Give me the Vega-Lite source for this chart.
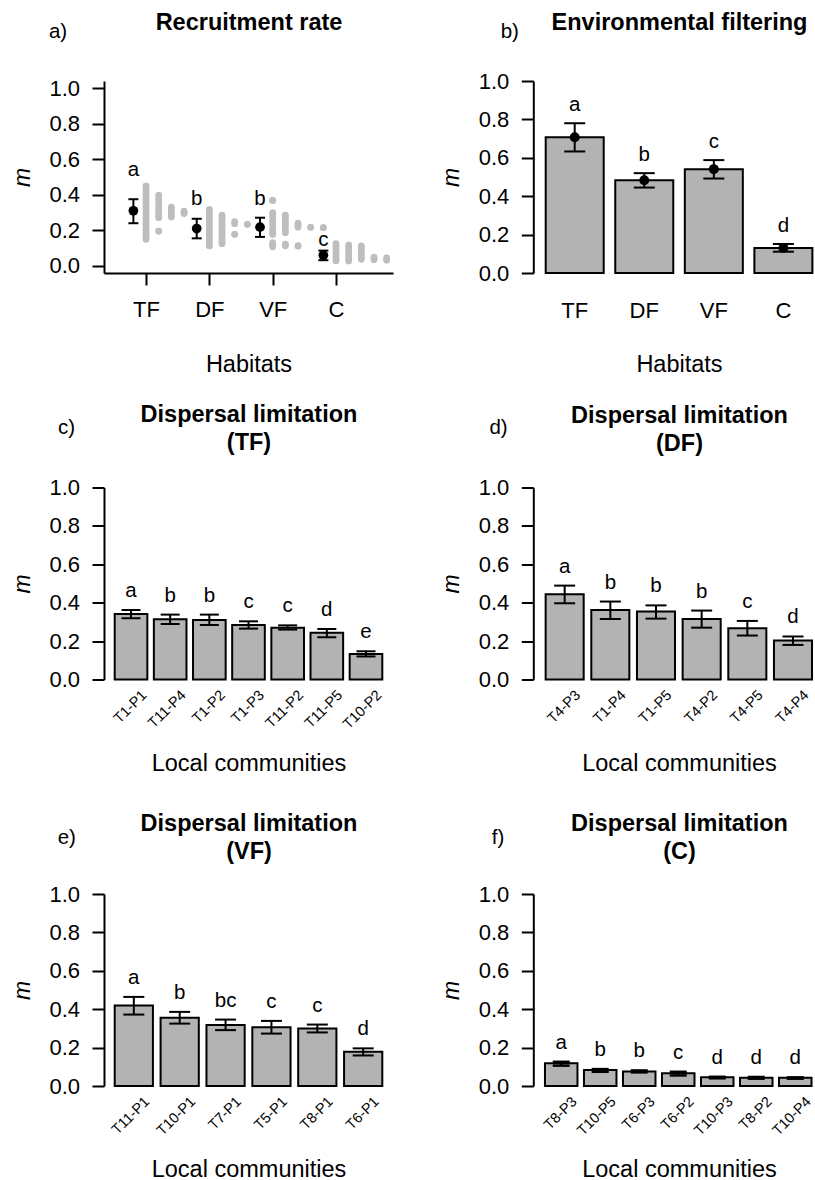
{
  "$schema": "https://vega.github.io/schema/vega-lite/v6.json",
  "autosize": {"type": "pad"},
  "padding": {"left": 11, "top": 10, "right": 0, "bottom": 0},
  "background": "white",
  "bounds": "flush",
  "columns": 2,
  "spacing": {"row": 214.5, "column": 140.3},
  "config": {
    "font": "Liberation Sans",
    "view": {"stroke": null},
    "axis": {
      "labelFont": "Liberation Sans", "titleFont": "Liberation Sans",
      "labelColor": "black", "titleColor": "black", "domainColor": "black", "tickColor": "black",
      "grid": false, "labelFontSize": 22, "titleFontSize": 23.5, "titleFontWeight": "normal",
      "tickSize": 12, "tickWidth": 2, "domainWidth": 2, "labelPadding": 12.5
    },
    "text": {"font": "Liberation Sans"}
  },
  "datasets": {
    "a_means": [
      {"hab": "TF", "pos": 0.8, "m": 0.31, "lo": 0.24, "hi": 0.375, "lab": "a", "ly": 0.505},
      {"hab": "DF", "pos": 1.8, "m": 0.21, "lo": 0.155, "hi": 0.265, "lab": "b", "ly": 0.342},
      {"hab": "VF", "pos": 2.8, "m": 0.218, "lo": 0.163, "hi": 0.271, "lab": "b", "ly": 0.342},
      {"hab": "C", "pos": 3.8, "m": 0.06, "lo": 0.032, "hi": 0.086, "lab": "c", "ly": 0.112}
    ],
    "a_strips": [
      {"hab": "TF", "pos": 1.0, "lo": 0.15, "hi": 0.45},
      {"hab": "TF", "pos": 1.2, "lo": 0.271, "hi": 0.398},
      {"hab": "TF", "pos": 1.2, "lo": 0.196, "hi": 0.196},
      {"hab": "TF", "pos": 1.4, "lo": 0.275, "hi": 0.331},
      {"hab": "TF", "pos": 1.6, "lo": 0.294, "hi": 0.308},
      {"hab": "DF", "pos": 2.0, "lo": 0.112, "hi": 0.318},
      {"hab": "DF", "pos": 2.2, "lo": 0.125, "hi": 0.286},
      {"hab": "DF", "pos": 2.4, "lo": 0.237, "hi": 0.249},
      {"hab": "DF", "pos": 2.4, "lo": 0.178, "hi": 0.178},
      {"hab": "DF", "pos": 2.6, "lo": 0.234, "hi": 0.234},
      {"hab": "VF", "pos": 3.0, "lo": 0.368, "hi": 0.368},
      {"hab": "VF", "pos": 3.0, "lo": 0.177, "hi": 0.3},
      {"hab": "VF", "pos": 3.0, "lo": 0.107, "hi": 0.131},
      {"hab": "VF", "pos": 3.2, "lo": 0.187, "hi": 0.286},
      {"hab": "VF", "pos": 3.2, "lo": 0.113, "hi": 0.122},
      {"hab": "VF", "pos": 3.4, "lo": 0.218, "hi": 0.24},
      {"hab": "VF", "pos": 3.4, "lo": 0.112, "hi": 0.112},
      {"hab": "VF", "pos": 3.6, "lo": 0.217, "hi": 0.217},
      {"hab": "VF", "pos": 3.8, "lo": 0.215, "hi": 0.215},
      {"hab": "C", "pos": 4.0, "lo": 0.028, "hi": 0.125},
      {"hab": "C", "pos": 4.2, "lo": 0.028, "hi": 0.118},
      {"hab": "C", "pos": 4.4, "lo": 0.037, "hi": 0.112},
      {"hab": "C", "pos": 4.6, "lo": 0.035, "hi": 0.05},
      {"hab": "C", "pos": 4.8, "lo": 0.032, "hi": 0.045}
    ],
    "b": [
      {"comm": "TF", "m": 0.707, "lo": 0.633, "hi": 0.78, "lab": "a"},
      {"comm": "DF", "m": 0.483, "lo": 0.445, "hi": 0.52, "lab": "b"},
      {"comm": "VF", "m": 0.541, "lo": 0.492, "hi": 0.588, "lab": "c"},
      {"comm": "C", "m": 0.13, "lo": 0.111, "hi": 0.151, "lab": "d"}
    ],
    "c": [
      {"comm": "T1-P1", "m": 0.341, "lo": 0.319, "hi": 0.362, "lab": "a"},
      {"comm": "T11-P4", "m": 0.314, "lo": 0.289, "hi": 0.338, "lab": "b"},
      {"comm": "T1-P2", "m": 0.31, "lo": 0.284, "hi": 0.338, "lab": "b"},
      {"comm": "T1-P3", "m": 0.284, "lo": 0.265, "hi": 0.303, "lab": "c"},
      {"comm": "T11-P2", "m": 0.27, "lo": 0.26, "hi": 0.282, "lab": "c"},
      {"comm": "T11-P5", "m": 0.243, "lo": 0.22, "hi": 0.263, "lab": "d"},
      {"comm": "T10-P2", "m": 0.133, "lo": 0.12, "hi": 0.147, "lab": "e"}
    ],
    "d": [
      {"comm": "T4-P3", "m": 0.444, "lo": 0.397, "hi": 0.489, "lab": "a"},
      {"comm": "T1-P4", "m": 0.362, "lo": 0.315, "hi": 0.406, "lab": "b"},
      {"comm": "T1-P5", "m": 0.354, "lo": 0.317, "hi": 0.386, "lab": "b"},
      {"comm": "T4-P2", "m": 0.315, "lo": 0.27, "hi": 0.359, "lab": "b"},
      {"comm": "T4-P5", "m": 0.267, "lo": 0.229, "hi": 0.305, "lab": "c"},
      {"comm": "T4-P4", "m": 0.203, "lo": 0.18, "hi": 0.224, "lab": "d"}
    ],
    "e": [
      {"comm": "T11-P1", "m": 0.419, "lo": 0.372, "hi": 0.464, "lab": "a"},
      {"comm": "T10-P1", "m": 0.356, "lo": 0.325, "hi": 0.386, "lab": "b"},
      {"comm": "T7-P1", "m": 0.318, "lo": 0.291, "hi": 0.346, "lab": "bc"},
      {"comm": "T5-P1", "m": 0.306, "lo": 0.273, "hi": 0.339, "lab": "c"},
      {"comm": "T8-P1", "m": 0.299, "lo": 0.279, "hi": 0.32, "lab": "c"},
      {"comm": "T6-P1", "m": 0.178, "lo": 0.159, "hi": 0.196, "lab": "d"}
    ],
    "f": [
      {"comm": "T8-P3", "m": 0.118, "lo": 0.106, "hi": 0.126, "lab": "a"},
      {"comm": "T10-P5", "m": 0.083, "lo": 0.074, "hi": 0.088, "lab": "b"},
      {"comm": "T6-P3", "m": 0.076, "lo": 0.071, "hi": 0.081, "lab": "b"},
      {"comm": "T6-P2", "m": 0.066, "lo": 0.055, "hi": 0.074, "lab": "c"},
      {"comm": "T10-P3", "m": 0.045, "lo": 0.04, "hi": 0.048, "lab": "d"},
      {"comm": "T8-P2", "m": 0.043, "lo": 0.038, "hi": 0.047, "lab": "d"},
      {"comm": "T10-P4", "m": 0.043, "lo": 0.038, "hi": 0.045, "lab": "d"}
    ]
  },
  "concat": [
    {
      "width": 289, "height": 192,
      "resolve": {"axis": {"x": "independent", "y": "independent"}},
      "layer": [
        {
          "data": {"name": "a_strips"},
          "mark": {"type": "rule", "color": "#bebebe", "strokeWidth": 6.7},
          "encoding": {
            "x": {"field": "pos", "type": "quantitative", "scale": {"domain": [0.336, 4.9], "nice": false, "zero": false},
              "axis": {"orient": "bottom", "values": [1, 2, 3, 4], "labelExpr": "datum.value == 1 ? 'TF' : datum.value == 2 ? 'DF' : datum.value == 3 ? 'VF' : 'C'", "labelPadding": 14, "title": "Habitats", "titleX": 144.5, "titleY": 98.5, "titleAlign": "center", "titleBaseline": "alphabetic"}},
            "y": {"field": "lo", "type": "quantitative", "scale": {"domain": [-0.04, 1.04], "nice": false, "zero": false},
              "axis": {"title": "m", "titleFontStyle": "italic", "titleFontSize": 23, "titleX": -82, "titleY": 96, "titleAngle": 270, "titleAlign": "center", "titleBaseline": "middle", "values": [0, 0.2, 0.4, 0.6, 0.8, 1], "format": ".1f"}},
            "y2": {"field": "hi"}
          }
        },
        {
          "data": {"name": "a_strips"},
          "mark": {"type": "point", "filled": true, "opacity": 1, "color": "#bebebe", "size": 45},
          "encoding": {
            "x": {"field": "pos", "type": "quantitative", "axis": null},
            "y": {"field": "lo", "type": "quantitative", "axis": null}
          }
        },
        {
          "data": {"name": "a_strips"},
          "mark": {"type": "point", "filled": true, "opacity": 1, "color": "#bebebe", "size": 45},
          "encoding": {
            "x": {"field": "pos", "type": "quantitative", "axis": null},
            "y": {"field": "hi", "type": "quantitative", "axis": null}
          }
        },
        {
          "data": {"name": "a_means"},
          "mark": {"type": "rule", "color": "black", "strokeWidth": 2},
          "encoding": {
            "x": {"field": "pos", "type": "quantitative",
              "axis": {"orient": "top", "labels": false, "ticks": false, "domain": false, "title": "Recruitment rate", "titleX": 144.5, "titleY": -51.7, "titleAlign": "center", "titleBaseline": "alphabetic", "titleAngle": 0, "titleFontSize": 23.5, "titleFontWeight": "bold", "titlePadding": 0}},
            "y": {"field": "lo", "type": "quantitative", "axis": null},
            "y2": {"field": "hi"}
          }
        },
        {
          "data": {"name": "a_means"},
          "mark": {"type": "tick", "orient": "horizontal", "color": "black", "opacity": 1, "size": 10, "thickness": 2},
          "encoding": {
            "x": {"field": "pos", "type": "quantitative",
              "axis": {"orient": "top", "labels": false, "ticks": false, "domain": false, "title": "a)", "titleX": -46.5, "titleY": -43.5, "titleAlign": "center", "titleBaseline": "alphabetic", "titleAngle": 0, "titleFontSize": 20.5, "titleFontWeight": "normal", "titlePadding": 0}},
            "y": {"field": "lo", "type": "quantitative", "axis": null}
          }
        },
        {
          "data": {"name": "a_means"},
          "mark": {"type": "tick", "orient": "horizontal", "color": "black", "opacity": 1, "size": 10, "thickness": 2},
          "encoding": {
            "x": {"field": "pos", "type": "quantitative", "axis": null},
            "y": {"field": "hi", "type": "quantitative", "axis": null}
          }
        },
        {
          "data": {"name": "a_means"},
          "mark": {"type": "point", "filled": true, "opacity": 1, "color": "black", "size": 95},
          "encoding": {
            "x": {"field": "pos", "type": "quantitative", "axis": null},
            "y": {"field": "m", "type": "quantitative", "axis": null}
          }
        },
        {
          "data": {"name": "a_means"},
          "mark": {"type": "text", "fontSize": 20.5, "color": "black", "baseline": "alphabetic", "align": "center"},
          "encoding": {
            "x": {"field": "pos", "type": "quantitative", "axis": null},
            "y": {"field": "ly", "type": "quantitative", "axis": null},
            "text": {"field": "lab"}
          }
        }
      ]
    },
    {
      "width": 282, "height": 192,
      "data": {"name": "b"},
      "resolve": {"axis": {"x": "independent", "y": "independent"}},
      "layer": [
        {
          "mark": {"type": "bar", "fill": "#b3b3b3", "stroke": "black", "strokeWidth": 2},
          "encoding": {
            "x": {"field": "comm", "type": "nominal", "sort": null, "scale": {"paddingInner": 0.166, "paddingOuter": 0.11, "align": 0.81},
              "axis": {"orient": "bottom", "labelAngle": 0, "ticks": false, "domain": false, "labelPadding": 27.5, "title": "Habitats", "titleX": 145.7, "titleY": 98.5, "titleAlign": "center", "titleBaseline": "alphabetic"}},
            "y": {"field": "m", "type": "quantitative", "scale": {"domain": [0, 1], "nice": false},
              "axis": {"title": "m", "titleFontStyle": "italic", "titleFontSize": 23, "titleX": -82, "titleY": 96, "titleAngle": 270, "titleAlign": "center", "titleBaseline": "middle", "values": [0, 0.2, 0.4, 0.6, 0.8, 1], "format": ".1f"}}
          }
        },
        {
          "mark": {"type": "rule", "color": "black", "strokeWidth": 2},
          "encoding": {
            "x": {"field": "comm", "type": "nominal", "sort": null,
              "axis": {"orient": "top", "labels": false, "ticks": false, "domain": false, "title": "Environmental filtering", "titleX": 145.7, "titleY": -51.5, "titleAlign": "center", "titleBaseline": "alphabetic", "titleAngle": 0, "titleFontSize": 23.5, "titleFontWeight": "bold", "titlePadding": 0}},
            "y": {"field": "lo", "type": "quantitative", "axis": null},
            "y2": {"field": "hi"}
          }
        },
        {
          "mark": {"type": "tick", "orient": "horizontal", "color": "black", "opacity": 1, "size": 21, "thickness": 2},
          "encoding": {
            "x": {"field": "comm", "type": "nominal", "sort": null,
              "axis": {"orient": "top", "labels": false, "ticks": false, "domain": false, "title": "b)", "titleX": -24, "titleY": -43.5, "titleAlign": "center", "titleBaseline": "alphabetic", "titleAngle": 0, "titleFontSize": 20.5, "titleFontWeight": "normal", "titlePadding": 0}},
            "y": {"field": "lo", "type": "quantitative", "axis": null}
          }
        },
        {
          "mark": {"type": "tick", "orient": "horizontal", "color": "black", "opacity": 1, "size": 21, "thickness": 2},
          "encoding": {
            "x": {"field": "comm", "type": "nominal", "sort": null, "axis": null},
            "y": {"field": "hi", "type": "quantitative", "axis": null}
          }
        },
        {
          "mark": {"type": "point", "filled": true, "opacity": 1, "color": "black", "size": 100},
          "encoding": {
            "x": {"field": "comm", "type": "nominal", "sort": null, "axis": null},
            "y": {"field": "m", "type": "quantitative", "axis": null}
          }
        },
        {
          "mark": {"type": "text", "fontSize": 20.5, "color": "black", "baseline": "alphabetic", "align": "center", "dy": -12},
          "encoding": {
            "x": {"field": "comm", "type": "nominal", "sort": null, "axis": null},
            "y": {"field": "hi", "type": "quantitative", "axis": null},
            "text": {"field": "lab"}
          }
        }
      ]
    },
    {
      "width": 289, "height": 192,
      "data": {"name": "c"},
      "resolve": {"axis": {"x": "independent", "y": "independent"}},
      "layer": [
        {
          "mark": {"type": "bar", "fill": "#b3b3b3", "stroke": "black", "strokeWidth": 2},
          "encoding": {
            "x": {"field": "comm", "type": "nominal", "sort": null, "scale": {"paddingInner": 0.1667, "paddingOuter": 0.2733, "align": 0.5},
              "axis": {"orient": "bottom", "ticks": false, "domain": false, "labelAngle": -45, "labelAlign": "right", "labelBaseline": "alphabetic", "labelFontSize": 14.5, "labelPadding": 16, "labelOffset": 16.5, "labelOverlap": false, "title": "Local communities", "titleX": 144.5, "titleY": 90.5, "titleAlign": "center", "titleBaseline": "alphabetic"}},
            "y": {"field": "m", "type": "quantitative", "scale": {"domain": [0, 1], "nice": false},
              "axis": {"title": "m", "titleFontStyle": "italic", "titleFontSize": 23, "titleX": -82, "titleY": 96, "titleAngle": 270, "titleAlign": "center", "titleBaseline": "middle", "values": [0, 0.2, 0.4, 0.6, 0.8, 1], "format": ".1f"}}
          }
        },
        {
          "mark": {"type": "rule", "color": "black", "strokeWidth": 2},
          "encoding": {
            "x": {"field": "comm", "type": "nominal", "sort": null,
              "axis": {"orient": "top", "labels": false, "ticks": false, "domain": false, "title": ["Dispersal limitation", "(TF)"], "titleX": 144.5, "titleY": -66.3, "titleAlign": "center", "titleBaseline": "alphabetic", "titleAngle": 0, "titleFontSize": 23.5, "titleFontWeight": "bold", "titleLineHeight": 28, "titlePadding": 0}},
            "y": {"field": "lo", "type": "quantitative", "axis": null},
            "y2": {"field": "hi"}
          }
        },
        {
          "mark": {"type": "tick", "orient": "horizontal", "color": "black", "opacity": 1, "size": 19, "thickness": 2},
          "encoding": {
            "x": {"field": "comm", "type": "nominal", "sort": null,
              "axis": {"orient": "top", "labels": false, "ticks": false, "domain": false, "title": "c)", "titleX": -38, "titleY": -54, "titleAlign": "center", "titleBaseline": "alphabetic", "titleAngle": 0, "titleFontSize": 20.5, "titleFontWeight": "normal", "titlePadding": 0}},
            "y": {"field": "lo", "type": "quantitative", "axis": null}
          }
        },
        {
          "mark": {"type": "tick", "orient": "horizontal", "color": "black", "opacity": 1, "size": 19, "thickness": 2},
          "encoding": {
            "x": {"field": "comm", "type": "nominal", "sort": null, "axis": null},
            "y": {"field": "hi", "type": "quantitative", "axis": null}
          }
        },
        {
          "mark": {"type": "text", "fontSize": 20.5, "color": "black", "baseline": "alphabetic", "align": "center", "dy": -13},
          "encoding": {
            "x": {"field": "comm", "type": "nominal", "sort": null, "axis": null},
            "y": {"field": "hi", "type": "quantitative", "axis": null},
            "text": {"field": "lab"}
          }
        }
      ]
    },
    {
      "width": 282, "height": 192,
      "data": {"name": "d"},
      "resolve": {"axis": {"x": "independent", "y": "independent"}},
      "layer": [
        {
          "mark": {"type": "bar", "fill": "#b3b3b3", "stroke": "black", "strokeWidth": 2},
          "encoding": {
            "x": {"field": "comm", "type": "nominal", "sort": null, "scale": {"paddingInner": 0.1667, "paddingOuter": 0.171, "align": 0.79},
              "axis": {"orient": "bottom", "ticks": false, "domain": false, "labelAngle": -45, "labelAlign": "right", "labelBaseline": "alphabetic", "labelFontSize": 14.5, "labelPadding": 16, "labelOffset": 16.5, "labelOverlap": false, "title": "Local communities", "titleX": 145.7, "titleY": 90.5, "titleAlign": "center", "titleBaseline": "alphabetic"}},
            "y": {"field": "m", "type": "quantitative", "scale": {"domain": [0, 1], "nice": false},
              "axis": {"title": "m", "titleFontStyle": "italic", "titleFontSize": 23, "titleX": -82, "titleY": 96, "titleAngle": 270, "titleAlign": "center", "titleBaseline": "middle", "values": [0, 0.2, 0.4, 0.6, 0.8, 1], "format": ".1f"}}
          }
        },
        {
          "mark": {"type": "rule", "color": "black", "strokeWidth": 2},
          "encoding": {
            "x": {"field": "comm", "type": "nominal", "sort": null,
              "axis": {"orient": "top", "labels": false, "ticks": false, "domain": false, "title": ["Dispersal limitation", "(DF)"], "titleX": 145.7, "titleY": -65.5, "titleAlign": "center", "titleBaseline": "alphabetic", "titleAngle": 0, "titleFontSize": 23.5, "titleFontWeight": "bold", "titleLineHeight": 28, "titlePadding": 0}},
            "y": {"field": "lo", "type": "quantitative", "axis": null},
            "y2": {"field": "hi"}
          }
        },
        {
          "mark": {"type": "tick", "orient": "horizontal", "color": "black", "opacity": 1, "size": 21, "thickness": 2},
          "encoding": {
            "x": {"field": "comm", "type": "nominal", "sort": null,
              "axis": {"orient": "top", "labels": false, "ticks": false, "domain": false, "title": "d)", "titleX": -35.3, "titleY": -54, "titleAlign": "center", "titleBaseline": "alphabetic", "titleAngle": 0, "titleFontSize": 20.5, "titleFontWeight": "normal", "titlePadding": 0}},
            "y": {"field": "lo", "type": "quantitative", "axis": null}
          }
        },
        {
          "mark": {"type": "tick", "orient": "horizontal", "color": "black", "opacity": 1, "size": 21, "thickness": 2},
          "encoding": {
            "x": {"field": "comm", "type": "nominal", "sort": null, "axis": null},
            "y": {"field": "hi", "type": "quantitative", "axis": null}
          }
        },
        {
          "mark": {"type": "text", "fontSize": 20.5, "color": "black", "baseline": "alphabetic", "align": "center", "dy": -13},
          "encoding": {
            "x": {"field": "comm", "type": "nominal", "sort": null, "axis": null},
            "y": {"field": "hi", "type": "quantitative", "axis": null},
            "text": {"field": "lab"}
          }
        }
      ]
    },
    {
      "width": 289, "height": 192,
      "data": {"name": "e"},
      "resolve": {"axis": {"x": "independent", "y": "independent"}},
      "layer": [
        {
          "mark": {"type": "bar", "fill": "#b3b3b3", "stroke": "black", "strokeWidth": 2},
          "encoding": {
            "x": {"field": "comm", "type": "nominal", "sort": null, "scale": {"paddingInner": 0.1667, "paddingOuter": 0.2333, "align": 0.5},
              "axis": {"orient": "bottom", "ticks": false, "domain": false, "labelAngle": -45, "labelAlign": "right", "labelBaseline": "alphabetic", "labelFontSize": 14.5, "labelPadding": 16, "labelOffset": 16.5, "labelOverlap": false, "title": "Local communities", "titleX": 144.5, "titleY": 90.5, "titleAlign": "center", "titleBaseline": "alphabetic"}},
            "y": {"field": "m", "type": "quantitative", "scale": {"domain": [0, 1], "nice": false},
              "axis": {"title": "m", "titleFontStyle": "italic", "titleFontSize": 23, "titleX": -82, "titleY": 96, "titleAngle": 270, "titleAlign": "center", "titleBaseline": "middle", "values": [0, 0.2, 0.4, 0.6, 0.8, 1], "format": ".1f"}}
          }
        },
        {
          "mark": {"type": "rule", "color": "black", "strokeWidth": 2},
          "encoding": {
            "x": {"field": "comm", "type": "nominal", "sort": null,
              "axis": {"orient": "top", "labels": false, "ticks": false, "domain": false, "title": ["Dispersal limitation", "(VF)"], "titleX": 144.5, "titleY": -64, "titleAlign": "center", "titleBaseline": "alphabetic", "titleAngle": 0, "titleFontSize": 23.5, "titleFontWeight": "bold", "titleLineHeight": 28, "titlePadding": 0}},
            "y": {"field": "lo", "type": "quantitative", "axis": null},
            "y2": {"field": "hi"}
          }
        },
        {
          "mark": {"type": "tick", "orient": "horizontal", "color": "black", "opacity": 1, "size": 21, "thickness": 2},
          "encoding": {
            "x": {"field": "comm", "type": "nominal", "sort": null,
              "axis": {"orient": "top", "labels": false, "ticks": false, "domain": false, "title": "e)", "titleX": -37.7, "titleY": -50.5, "titleAlign": "center", "titleBaseline": "alphabetic", "titleAngle": 0, "titleFontSize": 20.5, "titleFontWeight": "normal", "titlePadding": 0}},
            "y": {"field": "lo", "type": "quantitative", "axis": null}
          }
        },
        {
          "mark": {"type": "tick", "orient": "horizontal", "color": "black", "opacity": 1, "size": 21, "thickness": 2},
          "encoding": {
            "x": {"field": "comm", "type": "nominal", "sort": null, "axis": null},
            "y": {"field": "hi", "type": "quantitative", "axis": null}
          }
        },
        {
          "mark": {"type": "text", "fontSize": 20.5, "color": "black", "baseline": "alphabetic", "align": "center", "dy": -13},
          "encoding": {
            "x": {"field": "comm", "type": "nominal", "sort": null, "axis": null},
            "y": {"field": "hi", "type": "quantitative", "axis": null},
            "text": {"field": "lab"}
          }
        }
      ]
    },
    {
      "width": 282, "height": 192,
      "data": {"name": "f"},
      "resolve": {"axis": {"x": "independent", "y": "independent"}},
      "layer": [
        {
          "mark": {"type": "bar", "fill": "#b3b3b3", "stroke": "black", "strokeWidth": 2},
          "encoding": {
            "x": {"field": "comm", "type": "nominal", "sort": null, "scale": {"paddingInner": 0.1667, "paddingOuter": 0.198, "align": 0.755},
              "axis": {"orient": "bottom", "ticks": false, "domain": false, "labelAngle": -45, "labelAlign": "right", "labelBaseline": "alphabetic", "labelFontSize": 14.5, "labelPadding": 16, "labelOffset": 16.5, "labelOverlap": false, "title": "Local communities", "titleX": 145.7, "titleY": 90.5, "titleAlign": "center", "titleBaseline": "alphabetic"}},
            "y": {"field": "m", "type": "quantitative", "scale": {"domain": [0, 1], "nice": false},
              "axis": {"title": "m", "titleFontStyle": "italic", "titleFontSize": 23, "titleX": -82, "titleY": 96, "titleAngle": 270, "titleAlign": "center", "titleBaseline": "middle", "values": [0, 0.2, 0.4, 0.6, 0.8, 1], "format": ".1f"}}
          }
        },
        {
          "mark": {"type": "rule", "color": "black", "strokeWidth": 3},
          "encoding": {
            "x": {"field": "comm", "type": "nominal", "sort": null,
              "axis": {"orient": "top", "labels": false, "ticks": false, "domain": false, "title": ["Dispersal limitation", "(C)"], "titleX": 145.7, "titleY": -64, "titleAlign": "center", "titleBaseline": "alphabetic", "titleAngle": 0, "titleFontSize": 23.5, "titleFontWeight": "bold", "titleLineHeight": 28, "titlePadding": 0}},
            "y": {"field": "lo", "type": "quantitative", "axis": null},
            "y2": {"field": "hi"}
          }
        },
        {
          "mark": {"type": "tick", "orient": "horizontal", "color": "black", "opacity": 1, "size": 17, "thickness": 2.5},
          "encoding": {
            "x": {"field": "comm", "type": "nominal", "sort": null,
              "axis": {"orient": "top", "labels": false, "ticks": false, "domain": false, "title": "f)", "titleX": -35.8, "titleY": -50.5, "titleAlign": "center", "titleBaseline": "alphabetic", "titleAngle": 0, "titleFontSize": 20.5, "titleFontWeight": "normal", "titlePadding": 0}},
            "y": {"field": "lo", "type": "quantitative", "axis": null}
          }
        },
        {
          "mark": {"type": "tick", "orient": "horizontal", "color": "black", "opacity": 1, "size": 17, "thickness": 2.5},
          "encoding": {
            "x": {"field": "comm", "type": "nominal", "sort": null, "axis": null},
            "y": {"field": "hi", "type": "quantitative", "axis": null}
          }
        },
        {
          "mark": {"type": "text", "fontSize": 20.5, "color": "black", "baseline": "alphabetic", "align": "center", "dy": -13},
          "encoding": {
            "x": {"field": "comm", "type": "nominal", "sort": null, "axis": null},
            "y": {"field": "hi", "type": "quantitative", "axis": null},
            "text": {"field": "lab"}
          }
        }
      ]
    }
  ]
}
